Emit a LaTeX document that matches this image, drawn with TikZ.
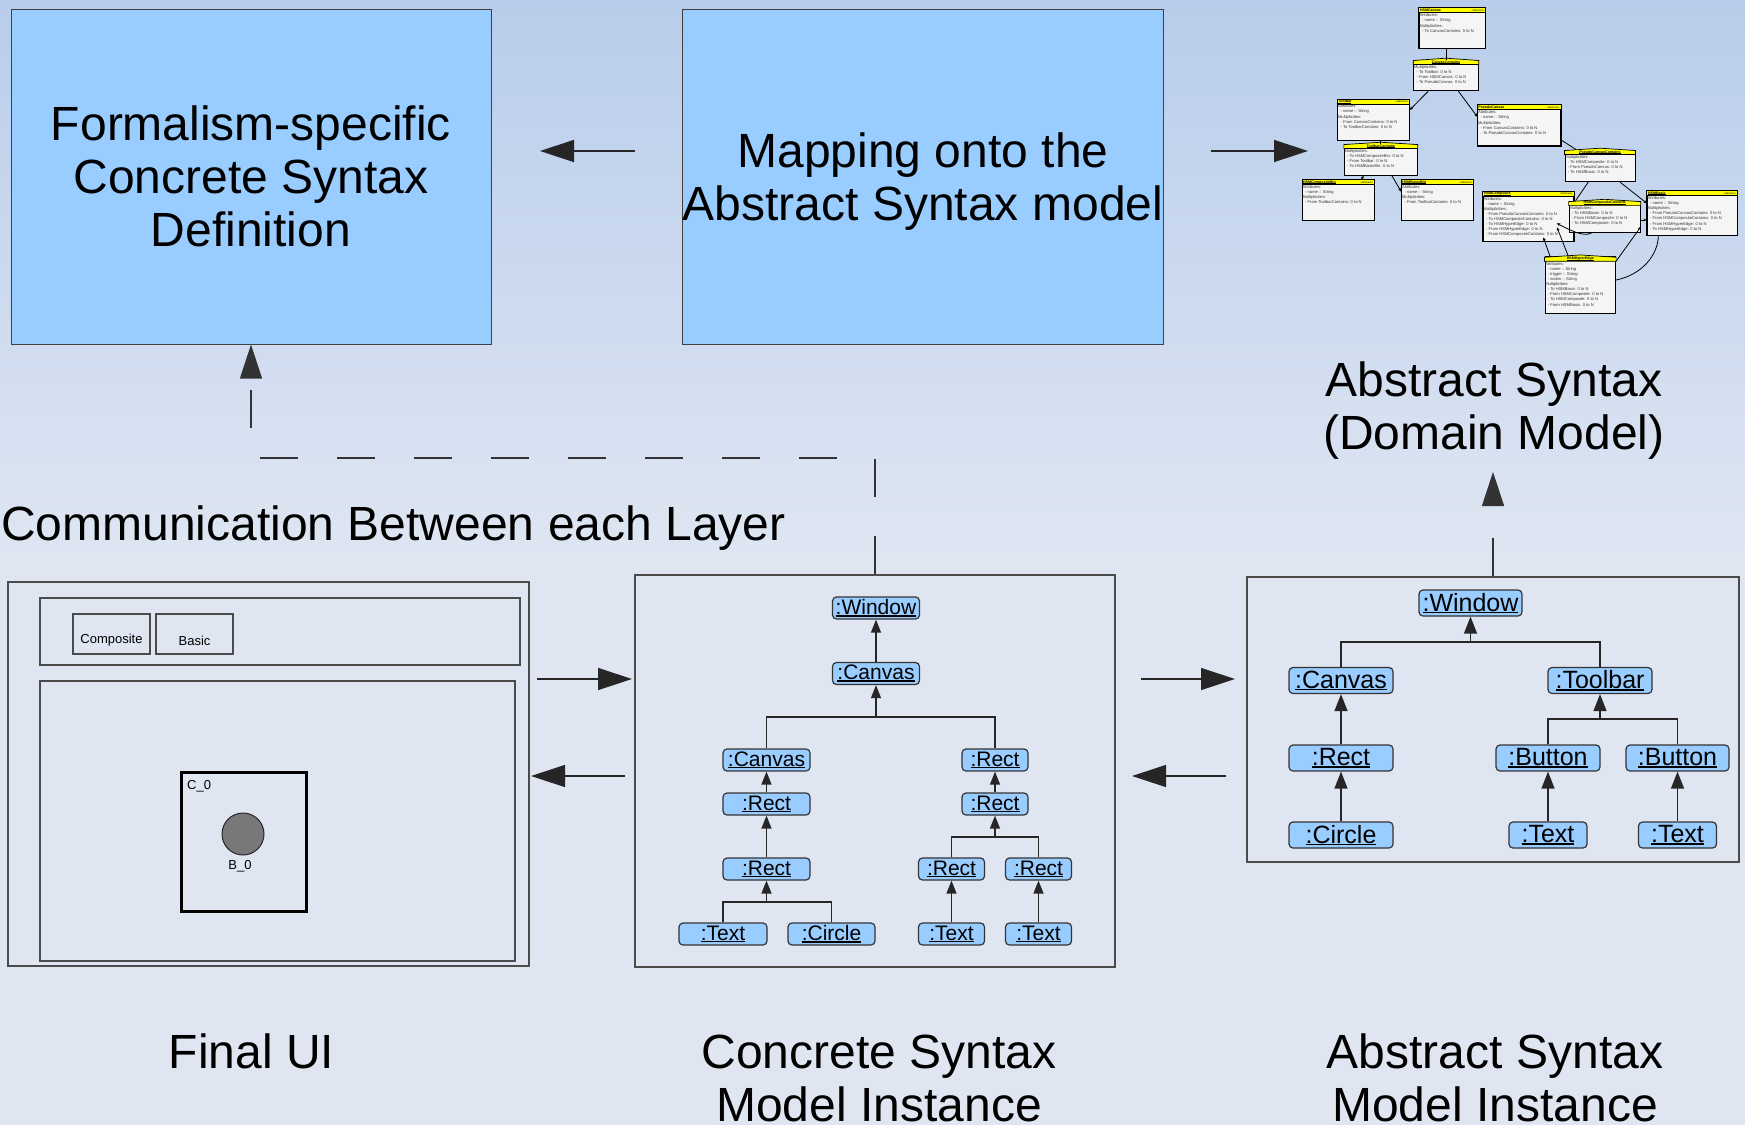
\documentclass[tikz,border=0pt]{standalone}
\usepackage{fontspec}
\setmainfont{Liberation Sans}
\usetikzlibrary{arrows.meta}

\definecolor{boxblue}{RGB}{153,204,255}
\definecolor{bgtop}{RGB}{184,205,235}
\definecolor{bgbot}{RGB}{223,230,242}
\definecolor{panelline}{RGB}{75,75,75}
\definecolor{umlyellow}{RGB}{255,255,0}

% underlined instance label
\newsavebox\ulsbox
\newcommand\ulbl[1]{\sbox\ulsbox{#1}\rlap{\rule[-0.085em]{\wd\ulsbox}{0.06em}}\usebox\ulsbox}
\newcommand\ind{\hspace*{2.5pt}}

% ordinary class box: name, centre, width, height, title, body
\newcommand\umlc[6]{%
  \node[umlbox, minimum width=#3, minimum height=#4] (#1) at (#2) {};
  \fill[umlyellow] (#1.north west) rectangle ([yshift=-5pt]#1.north east);
  \draw[umlline] ([yshift=-5pt]#1.north west) -- ([yshift=-5pt]#1.north east);
  \draw[umlline] (#1.north west) rectangle (#1.south east);
  \node[umltitle, anchor=west] (#1-t) at ([xshift=1pt,yshift=-2.6pt]#1.north west) {\ulbl{#5}};
  \node[umlster, anchor=east] (#1-s) at ([xshift=-1.5pt,yshift=-2.6pt]#1.north east) {«Abstract»};
  \node[umlbody, anchor=north west] (#1-b) at ([yshift=-5.2pt]#1.north west) {#6};
}
% association class box: arched header, centred title
\newcommand\umla[6]{%
  \node[umlbox, minimum width=#3, minimum height=#4] (#1) at (#2) {};
  \filldraw[umlyellow, draw=black, line width=0.7pt]
    ([yshift=-5pt]#1.north west) -- ([yshift=-1pt]#1.north west) -- ([yshift=1.3pt]#1.north)
    -- ([yshift=-1pt]#1.north east) -- ([yshift=-5pt]#1.north east) -- cycle;
  \node[umltitle] (#1-t) at ([yshift=-2.4pt]#1.north) {\ulbl{#5}};
  \node[umlbody, anchor=north west] (#1-b) at ([yshift=-5.2pt]#1.north west) {#6};
}

\begin{document}
\begin{tikzpicture}[x=1pt, y=-1pt,
  bluebox/.style={draw=black!75, line width=1pt, fill=boxblue, align=center,
    font=\fontsize{48}{53}\selectfont, inner sep=0pt},
  panel/.style={draw=panelline, line width=1.6pt, inner sep=0pt},
  bigarrow/.style={draw=black!85, line width=1.4pt, -{Triangle[length=34pt,width=22pt]}},
  dashconn/.style={draw=black!80, line width=1.2pt, dash pattern=on 38.5pt off 38.5pt,
    -{Triangle[length=34pt,width=22pt]}},
  biglabel/.style={font=\fontsize{48}{53}\selectfont, align=center, inner sep=0pt},
  inst/.style={draw=black!80, line width=1.2pt, fill=boxblue, rounded corners=4pt,
    inner sep=0pt, minimum height=22pt, font=\fontsize{21}{22}\selectfont},
  instb/.style={inst, minimum height=26pt, font=\fontsize{25}{26}\selectfont},
  tline/.style={draw=black!85, line width=1.3pt},
  tedge/.style={tline, -{Triangle[length=13pt,width=10pt]}},
  tedgeb/.style={tline, -{Triangle[length=17pt,width=13pt]}},
  uiframe/.style={draw=panelline, line width=1.3pt, inner sep=0pt},
  uismall/.style={font=\fontsize{13}{15}\selectfont, inner sep=0pt},
  umlbox/.style={draw=black, line width=0.9pt, fill=white!96!black, inner sep=0pt},
  umlline/.style={draw=black, line width=0.8pt},
  umltitle/.style={font=\fontsize{3.6}{4}\selectfont\bfseries, inner sep=0pt},
  umlster/.style={font=\fontsize{2.6}{3}\selectfont, inner sep=0pt},
  umlbody/.style={font=\fontsize{4.1}{5.1}\selectfont, inner sep=0.6pt, align=left, text=black!80},
  umlarrow/.style={draw=black, line width=0.8pt, -{Stealth[length=3.5pt,width=3pt]}},
  umlconn/.style={draw=black, line width=0.8pt}]

\useasboundingbox (0,0) rectangle (1745,1125);

% background
\shade[top color=bgtop, bottom color=bgbot] (0,0) rectangle (1745,560);
\fill[bgbot] (0,559) rectangle (1745,1125);

% top row
\node[bluebox, minimum width=480pt, minimum height=335pt] (fsd) at (251,176.5)
  {Formalism-specific\\Concrete Syntax\\Definition};
\node[bluebox, minimum width=480pt, minimum height=335pt, text depth=0pt] (map) at (923,176.5)
  {Mapping onto the\\Abstract Syntax model};

\coordinate (ta1) at (635,151);
\coordinate (ta2) at (540,151);
\draw[bigarrow] (ta1) -- (ta2);
\coordinate (tb1) at (1211,151);
\coordinate (tb2) at (1308,151);
\draw[bigarrow] (tb1) -- (tb2);

% domain model (class diagram)
\umlc{hc}{1452.3,28.3}{66pt}{40pt}{HSMCanvas}{Attributes:\\\ind- name :: String\\Multiplicities:\\\ind- To CanvasContains: 0 to N}
\umla{ccx}{1446,75.3}{64.6pt}{30.7pt}{CanvasContains}{Multiplicities:\\\ind- To Toolbar: 0 to N\\\ind- From HSMCanvas: 0 to N\\\ind- To PseudoCanvas: 0 to N}
\umlc{tbx}{1373.5,119.7}{71.6pt}{40.7pt}{Toolbar}{Attributes:\\\ind- name :: String\\Multiplicities:\\\ind- From CanvasContains: 0 to N\\\ind- To ToolbarContains: 0 to N}
\umla{tbc}{1380.8,159.5}{73pt}{31pt}{ToolbarContains}{Multiplicities:\\\ind- To HSMCompositeBtn: 0 to N\\\ind- From Toolbar: 0 to N\\\ind- To HSMBasicBtn: 0 to N}
\umlc{hcb}{1338.2,200}{71.7pt}{40pt}{HSMCompositeBtn}{Attributes:\\\ind- name :: String\\Multiplicities:\\\ind- From ToolbarContains: 0 to N}
\umlc{hbb}{1437.5,200}{71.6pt}{40pt}{HSMBasicBtn}{Attributes:\\\ind- name :: String\\Multiplicities:\\\ind- From ToolbarContains: 0 to N}
\umlc{psc}{1519.2,125.5}{83pt}{40.4pt}{PseudoCanvas}{Attributes:\\\ind- name :: String\\Multiplicities:\\\ind- From CanvasContains: 0 to N\\\ind- To PseudoCanvasContains: 0 to N}
\umla{pcc}{1600,165.8}{70pt}{31.7pt}{PseudoCanvasContains}{Multiplicities:\\\ind- To HSMComposite: 0 to N\\\ind- From PseudoCanvas: 0 to N\\\ind- To HSMBasic: 0 to N}
\umlc{hcm}{1528.5,216.3}{90.4pt}{49.3pt}{HSMComposite}{Attributes:\\\ind- name :: String\\Multiplicities:\\\ind- From PseudoCanvasContains: 0 to N\\\ind- To HSMCompositeContains: 0 to N\\\ind- To HSMHyperEdge: 0 to N\\\ind- From HSMHyperEdge: 0 to N\\\ind- From HSMCompositeContains: 0 to N}
\umla{hcc}{1604.7,216.7}{71.3pt}{31.3pt}{HSMCompositeContains}{Multiplicities:\\\ind- To HSMBasic: 0 to N\\\ind- From HSMComposite: 0 to N\\\ind- To HSMComposite: 0 to N}
\umlc{hbs}{1692.3,213}{90pt}{44pt}{HSMBasic}{Attributes:\\\ind- name :: String\\Multiplicities:\\\ind- From PseudoCanvasContains: 0 to N\\\ind- From HSMCompositeContains: 0 to N\\\ind- From HSMHyperEdge: 0 to N\\\ind- To HSMHyperEdge: 0 to N}
\umla{hhe}{1580.3,285}{70.7pt}{56.6pt}{HSMHyperEdge}{Attributes:\\\ind- name :: String\\\ind- trigger :: String\\\ind- action :: String\\Multiplicities:\\\ind- To HSMBasic: 0 to N\\\ind- From HSMComposite: 0 to N\\\ind- To HSMComposite: 0 to N\\\ind- From HSMBasic: 0 to N}

\draw[umlconn] (hc.south -| ccx.north) -- (ccx.north);
\draw[umlarrow] ([xshift=-17.7pt]ccx.south) -- ([yshift=9.7pt]tbx.east);
\draw[umlarrow] ([xshift=12.3pt]ccx.south) -- ([yshift=8.8pt]psc.west);
\draw[umlconn] (tbx.south -| tbc.north) -- (tbc.north);
\draw[umlarrow] ([xshift=-16.8pt]tbc.south) -- ([xshift=22.8pt]hcb.north);
\draw[umlarrow] ([xshift=10.9pt]tbc.south) -- ([yshift=8.3pt]hbb.west);
\draw[umlconn] ([yshift=-14.5pt]psc.east) -- ([xshift=-24pt]pcc.north);
\draw[umlconn] ([xshift=-11.7pt]pcc.south) -- ([xshift=7pt]hcc.north west);
\draw[umlarrow] ([xshift=20pt]pcc.south) -- ([yshift=9.7pt]hbs.west);
\draw[umlarrow] ([yshift=-3.3pt]hcc.east) -- ([yshift=-7pt]hbs.west);
\draw[umlarrow] ([xshift=-13pt]hcc.south) .. controls +(-8pt,-5pt) and +(12pt,-6pt) .. ([xshift=28.2pt,yshift=-7pt]hcm.center);
\draw[umlarrow] ([xshift=-30.3pt]hhe.north) -- ([xshift=14.8pt,yshift=4pt]hcm.south);
\draw[umlarrow] ([xshift=-12pt]hhe.north) -- ([xshift=28.5pt,yshift=14pt]hcm.south);
\draw[umlarrow] ([yshift=-5pt]hhe.north east) -- ([yshift=-10pt]hcc.east);
\draw[umlconn] ([yshift=5pt]hhe.east) .. controls +(25pt,5pt) and +(0,-20pt) .. ([xshift=-34pt]hbs.south);

\node[biglabel] (dm) at (1494,411) {Abstract Syntax\\(Domain Model)};
\node[biglabel, anchor=base west] (comm) at (1,540) {Communication Between each Layer};

% panels
\node[panel, minimum width=521pt, minimum height=384pt] (ui) at (268.5,774) {};
\node[panel, minimum width=480pt, minimum height=392pt] (csm) at (875,771) {};
\node[panel, minimum width=492pt, minimum height=285pt] (asm) at (1493,719.5) {};

% dashed links between the layers
\coordinate (dc) at (875,458);
\draw[dashconn] (csm.north) -- (dc) -| (fsd.south);
\coordinate (dmt) at (1493,472);
\draw[dashconn] (asm.north) -- (dmt);

% arrows between the lower panels
\coordinate (m1a) at (537,679);  \coordinate (m1b) at (632,679);
\coordinate (m2a) at (625,776);  \coordinate (m2b) at (531,776);
\coordinate (m3a) at (1141,679); \coordinate (m3b) at (1235,679);
\coordinate (m4a) at (1226,776); \coordinate (m4b) at (1132,776);
\draw[bigarrow] (m1a) -- (m1b);
\draw[bigarrow] (m2a) -- (m2b);
\draw[bigarrow] (m3a) -- (m3b);
\draw[bigarrow] (m4a) -- (m4b);

% final UI
\node[uiframe, minimum width=480pt, minimum height=67pt] (uitb) at (280,631.5) {};
\node[uiframe, minimum width=475pt, minimum height=280pt] (uicv) at (277.5,821) {};
\node[uiframe, line width=1.1pt, minimum width=77pt, minimum height=40pt] (bcomp) at (111.5,634) {};
\node[uismall] (bcompt) at (111.5,640) {Composite};
\node[uiframe, line width=1.1pt, minimum width=77pt, minimum height=40pt] (bbas) at (194.5,634) {};
\node[uismall] (bbast) at (194.5,641) {Basic};
\node[draw=black, line width=3pt, minimum width=125pt, minimum height=139pt, inner sep=0pt] (c0) at (243.5,841.5) {};
\node[uismall, anchor=west] (c0t) at (187,786) {C\_0};
\node[circle, draw=black!85, fill=black!53, line width=1pt, minimum size=42pt, inner sep=0pt] (b0) at (243,834) {};
\node[uismall] (b0t) at (240,866) {B\_0};

% concrete syntax model instance
\node[inst, minimum width=87pt] (cw) at (876,608) {\ulbl{:Window}};
\node[inst, minimum width=87pt] (cc) at (876,673.5) {\ulbl{:Canvas}};
\node[inst, minimum width=87pt] (cl1) at (766.5,760) {\ulbl{:Canvas}};
\node[inst, minimum width=87pt] (cl2) at (766.5,804) {\ulbl{:Rect}};
\node[inst, minimum width=87pt] (cl3) at (766.5,869) {\ulbl{:Rect}};
\node[inst, minimum width=88pt] (clt) at (723,934) {\ulbl{:Text}};
\node[inst, minimum width=87pt] (clc) at (831.5,934) {\ulbl{:Circle}};
\node[inst, minimum width=66pt] (cr1) at (995,760) {\ulbl{:Rect}};
\node[inst, minimum width=66pt] (cr2) at (995,804) {\ulbl{:Rect}};
\node[inst, minimum width=66pt] (cr3a) at (951.5,869) {\ulbl{:Rect}};
\node[inst, minimum width=66pt] (cr3b) at (1038.5,869) {\ulbl{:Rect}};
\node[inst, minimum width=66pt] (cr4a) at (951.5,934) {\ulbl{:Text}};
\node[inst, minimum width=66pt] (cr4b) at (1038.5,934) {\ulbl{:Text}};

\draw[tedge] (cc.north) -- (cw.south);
\coordinate (j1) at (876,717);
\draw[tline] (cl1.north) |- (j1);
\draw[tline] (cr1.north) |- (j1);
\draw[tedge] (j1) -- (cc.south);
\draw[tedge] (cl2.north) -- (cl1.south);
\draw[tedge] (cl3.north) -- (cl2.south);
\coordinate (j2) at (766.5,902);
\draw[tline] (clt.north) |- (j2);
\draw[tline] (clc.north) |- (j2);
\draw[tedge] (j2) -- (cl3.south);
\draw[tedge] (cr2.north) -- (cr1.south);
\coordinate (j3) at (995,837);
\draw[tline] (cr3a.north) |- (j3);
\draw[tline] (cr3b.north) |- (j3);
\draw[tedge] (j3) -- (cr2.south);
\draw[tedge] (cr4a.north) -- (cr3a.south);
\draw[tedge] (cr4b.north) -- (cr3b.south);

% abstract syntax model instance
\node[instb, minimum width=103pt] (aw) at (1470.5,603) {\ulbl{:Window}};
\node[instb, minimum width=104pt] (ac) at (1341,680.5) {\ulbl{:Canvas}};
\node[instb, minimum width=104pt] (atb) at (1600,680.5) {\ulbl{:Toolbar}};
\node[instb, minimum width=104pt] (ar) at (1341,758) {\ulbl{:Rect}};
\node[instb, minimum width=104pt] (aci) at (1341,835) {\ulbl{:Circle}};
\node[instb, minimum width=104pt] (ab1) at (1548,758) {\ulbl{:Button}};
\node[instb, minimum width=103pt] (ab2) at (1677.5,758) {\ulbl{:Button}};
\node[instb, minimum width=78pt] (at1) at (1548,835) {\ulbl{:Text}};
\node[instb, minimum width=78pt] (at2) at (1677.5,835) {\ulbl{:Text}};

\coordinate (k1) at (1470.5,642);
\draw[tline] (ac.north) |- (k1);
\draw[tline] (atb.north) |- (k1);
\draw[tedgeb] (k1) -- (aw.south);
\draw[tedgeb] (ar.north) -- (ac.south);
\draw[tedgeb] (aci.north) -- (ar.south);
\coordinate (k2) at (1600,719);
\draw[tline] (ab1.north) |- (k2);
\draw[tline] (ab2.north) |- (k2);
\draw[tedgeb] (k2) -- (atb.south);
\draw[tedgeb] (at1.north) -- (ab1.south);
\draw[tedgeb] (at2.north) -- (ab2.south);

% captions
\node[biglabel, anchor=base] (cap1) at (251.5,1068) {Final UI};
\node[biglabel, anchor=base] (cap2) at (879,1068) {Concrete Syntax};
\node[biglabel, anchor=base] (cap2b) at (879,1121) {Model Instance};
\node[biglabel, anchor=base] (cap3) at (1495,1068) {Abstract Syntax};
\node[biglabel, anchor=base] (cap3b) at (1495,1121) {Model Instance};
\end{tikzpicture}
\end{document}
